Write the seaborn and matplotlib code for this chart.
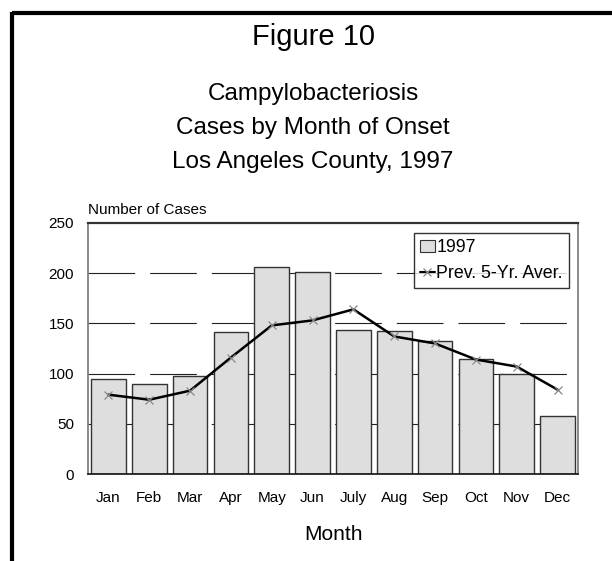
import matplotlib
matplotlib.use("Agg")
import matplotlib.pyplot as plt
import seaborn as sns
import pandas as pd
from matplotlib.patches import Patch
from matplotlib.lines import Line2D

months = ["Jan", "Feb", "Mar", "Apr", "May", "Jun", "July", "Aug", "Sep", "Oct", "Nov", "Dec"]
cases_1997 = [95, 90, 98, 141, 206, 201, 143, 142, 132, 115, 100, 58]
prev_5yr_avg = [79, 74, 83, 116, 148, 153, 164, 137, 130, 114, 107, 84]
y_ticks = [0, 50, 100, 150, 200, 250]

sns.set_style("white")
plt.rcParams["font.family"] = ["Liberation Sans", "DejaVu Sans"]
plt.rcParams["text.color"] = "black"
plt.rcParams["xtick.labelcolor"] = "black"
plt.rcParams["ytick.labelcolor"] = "black"

df = pd.DataFrame({"Month": months, "1997": cases_1997, "Prev": prev_5yr_avg})

fig = plt.figure(figsize=(6.12, 5.61), dpi=100)
ax = fig.add_axes([88/612, 1-474/561, (578-88)/612, (474-223)/561])

ax.set_axisbelow(True)
for yv in y_ticks[1:-1]:
    ax.axhline(yv, color="#222222", lw=0.8, linestyle=(0, (42, 13.5)), zorder=0)

sns.barplot(data=df, x="Month", y="1997", color="#dedede", edgecolor="#333333",
            linewidth=1.0, width=0.85, saturation=1, ax=ax, zorder=2)
sns.pointplot(data=df, x="Month", y="Prev", color="black", markers="x",
              linestyles="-", errorbar=None, ax=ax, linewidth=1.8,
              markersize=6, zorder=3)
for ln in ax.lines:
    if ln.get_marker() == "x":
        ln.set_markeredgecolor("#888888")
        ln.set_markerfacecolor("#888888")
        ln.set_markeredgewidth(0.9)
        ln.set_markersize(6)
        ln.set_zorder(3)

ax.set_xlim(-0.5, 11.5)
ax.set_ylim(0, 250)
ax.set_yticks(y_ticks)
ax.set_xlabel("")
ax.set_ylabel("")
ax.tick_params(axis="both", direction="out", length=6, width=1, color="#666666",
               labelsize=11, labelcolor="black", pad=4)
ax.tick_params(axis="x", pad=6)

for s in ["left", "right"]:
    ax.spines[s].set_color("#777777")
    ax.spines[s].set_linewidth(1.2)
ax.spines["top"].set_color("#333333")
ax.spines["top"].set_linewidth(1.6)
ax.spines["bottom"].set_color("#111111")
ax.spines["bottom"].set_linewidth(1.2)
for s in ax.spines.values():
    s.set_visible(True)

handles = [Patch(facecolor="#dedede", edgecolor="#333333", linewidth=0.8),
           Line2D([0], [0], color="black", lw=1.5, marker="x", markersize=6,
                  markeredgecolor="#888888", markeredgewidth=0.9)]
leg = ax.legend(handles, ["1997", "Prev. 5-Yr. Aver."], loc="upper right",
                bbox_to_anchor=((569-88)/490, (474-233)/251), frameon=True,
                fancybox=False, edgecolor="black", fontsize=12.8,
                handlelength=0.8, handleheight=0.65, handletextpad=0.1,
                borderpad=0.35, labelspacing=0.5, borderaxespad=0)
leg.get_frame().set_linewidth(1.0)

cx = 313/612
fig.text(cx, 1-37/561, "Figure 10", ha="center", va="center", fontsize=21)
fig.text(cx, 1-94/561, "Campylobacteriosis", ha="center", va="center", fontsize=17.5)
fig.text(cx, 1-128/561, "Cases by Month of Onset", ha="center", va="center", fontsize=17.5)
fig.text(cx, 1-162/561, "Los Angeles County, 1997", ha="center", va="center", fontsize=17.5)
fig.text(333/612, 1-535/561, "Month", ha="center", va="center", fontsize=15)
fig.text(88/612, 1-209.5/561, "Number of Cases", ha="left", va="center", fontsize=11)

fig.add_artist(Line2D([12/612, 1.0], [1-13/561, 1-13/561], color="black", lw=3,
                      transform=fig.transFigure, solid_capstyle="butt"))
fig.add_artist(Line2D([12/612, 12/612], [1-11.5/561, 0], color="black", lw=3,
                      transform=fig.transFigure, solid_capstyle="butt"))

fig.savefig("out.png", dpi=100)
